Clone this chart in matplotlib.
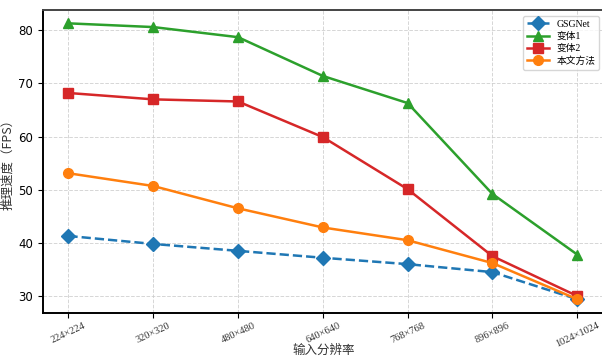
import numpy as np
import matplotlib.pyplot as plt

plt.rcParams['font.family'] = ['DejaVu Sans', 'Noto Sans CJK SC']
plt.rcParams['axes.unicode_minus'] = False

# 输入分辨率与各方法的推理速度
resolutions = ['224×224', '320×320', '480×480', '640×640', '768×768', '896×896', '1024×1024']
gsgnet = [41.3, 39.8, 38.5, 37.2, 36.0, 34.5, 29.4]
variant1 = [81.3, 80.6, 78.7, 71.4, 66.3, 49.2, 37.8]
variant2 = [68.2, 67.0, 66.6, 59.9, 50.1, 37.5, 30.0]
ours = [53.1, 50.7, 46.5, 42.9, 40.5, 36.2, 29.4]

serif_cjk = ['Liberation Serif', 'Noto Sans CJK SC']

fig = plt.figure(figsize=(6.02, 3.59), dpi=100)
ax = fig.add_axes([0.0714, 0.128, 0.934, 0.844])

x = np.arange(len(resolutions))
ax.plot(x, gsgnet, '--D', color='#1f77b4', lw=1.8, ms=7, label='GSGNet')
ax.plot(x, variant1, '-^', color='#2ca02c', lw=1.8, ms=7.5, label='变体1')
ax.plot(x, variant2, '-s', color='#d62728', lw=1.8, ms=7, label='变体2')
ax.plot(x, ours, '-o', color='#ff7f0e', lw=1.8, ms=7, label='本文方法')

ax.set_xlim(-0.3, 6.33)
ax.set_ylim(26.8, 83.8)
ax.set_yticks([30, 40, 50, 60, 70, 80])
ax.set_xticks(x)
ax.set_xticklabels(resolutions, rotation=25, fontsize=7.5, family=serif_cjk, color='#333333')
ax.tick_params(axis='y', labelsize=8.5)
ax.tick_params(axis='x', pad=2)
ax.grid(True, linestyle='--', color='#cccccc', linewidth=0.7, alpha=0.8)

for side in ['left', 'bottom', 'top']:
    ax.spines[side].set_linewidth(1.4)
ax.spines['top'].set_color('#444444')

ax.set_ylabel('推理速度（FPS）', fontsize=9, family=['Noto Sans CJK SC'], color='#333333', labelpad=3)
ax.set_xlabel('输入分辨率', fontsize=9, family=['Noto Sans CJK SC'], color='#333333')
ax.xaxis.label.set_va('bottom')
ax.xaxis.set_label_coords(0.5, -0.146)

ax.legend(loc='upper right', prop={'family': serif_cjk, 'size': 7},
          borderaxespad=0.6, handlelength=2.2, labelspacing=0.3)

fig.savefig('out.png', dpi=100)
